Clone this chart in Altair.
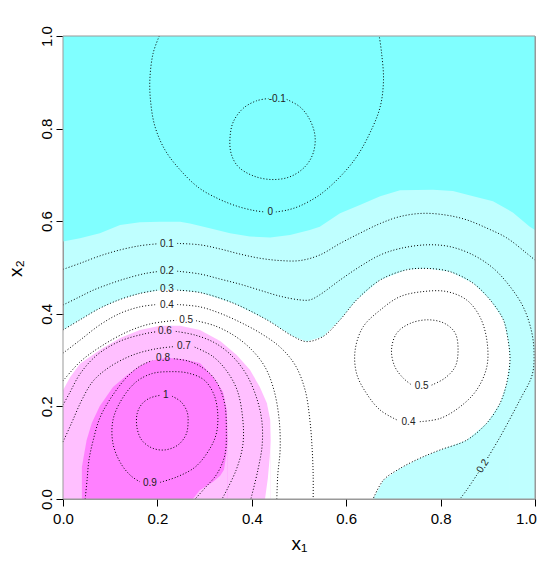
import altair as alt
import pandas as pd

# ---------------- colour-class boundaries (x1, x2) ----------------
DARK_CYAN_EDGE = [(0.0, 0.556), (0.036, 0.563), (0.078, 0.574), (0.121, 0.592), (0.163, 0.598),
                  (0.206, 0.599), (0.248, 0.599), (0.269, 0.595), (0.311, 0.585), (0.354, 0.574),
                  (0.396, 0.567), (0.439, 0.565), (0.481, 0.570), (0.523, 0.581), (0.544, 0.588),
                  (0.587, 0.617), (0.629, 0.635), (0.672, 0.654), (0.714, 0.667), (0.784, 0.668),
                  (0.826, 0.665), (0.869, 0.654), (0.911, 0.643), (0.953, 0.619), (0.989, 0.588),
                  (1.0, 0.581)]
WHITE_TOP = [(0.0, 0.365), (0.036, 0.387), (0.078, 0.412), (0.121, 0.431), (0.163, 0.444),
             (0.220, 0.453), (0.290, 0.446), (0.361, 0.423), (0.432, 0.387), (0.488, 0.351),
             (0.516, 0.340), (0.551, 0.351), (0.587, 0.387), (0.622, 0.430), (0.672, 0.473),
             (0.728, 0.495), (0.771, 0.498), (0.820, 0.491), (0.869, 0.466), (0.905, 0.430),
             (0.933, 0.387), (0.943, 0.343), (0.947, 0.300)]
CYAN_FOOT = [(0.657, 0.0), (0.679, 0.041), (0.714, 0.066), (0.756, 0.088), (0.799, 0.106),
             (0.855, 0.127), (0.898, 0.164), (0.926, 0.207), (0.940, 0.250), (0.947, 0.300)]
PINK_TOP = [(0.0, 0.235), (0.015, 0.263), (0.036, 0.292), (0.078, 0.322), (0.121, 0.348),
            (0.163, 0.365), (0.206, 0.374), (0.248, 0.374), (0.290, 0.365), (0.333, 0.341),
            (0.368, 0.311), (0.396, 0.279), (0.417, 0.242), (0.432, 0.207), (0.439, 0.171),
            (0.440, 0.127)]
WHITE_NOTCH = [(0.428, 0.0), (0.434, 0.045), (0.438, 0.091), (0.440, 0.127)]
MAGENTA_TOP = [(0.040, 0.069), (0.050, 0.127), (0.061, 0.164), (0.078, 0.201), (0.106, 0.242),
               (0.136, 0.268), (0.163, 0.287), (0.184, 0.298), (0.220, 0.305), (0.254, 0.302),
               (0.290, 0.294), (0.318, 0.264), (0.339, 0.231), (0.347, 0.192), (0.349, 0.127)]
PINK_NOTCH = [(0.275, 0.0), (0.290, 0.019), (0.318, 0.037), (0.333, 0.050), (0.341, 0.063),
              (0.346, 0.095), (0.349, 0.127)]

# ---------------- contour line pieces (gaps left where labels sit) ----------------
C_M01 = [(0.474, 0.863), (0.502, 0.847), (0.523, 0.819), (0.534, 0.783), (0.530, 0.747),
         (0.513, 0.718), (0.481, 0.696), (0.442, 0.690), (0.403, 0.698), (0.371, 0.718),
         (0.356, 0.747), (0.354, 0.783), (0.361, 0.815), (0.382, 0.844), (0.410, 0.860),
         (0.435, 0.865)]
C_0A = [(0.204, 1.0), (0.191, 0.963), (0.184, 0.905), (0.186, 0.855), (0.195, 0.804),
        (0.216, 0.754), (0.248, 0.711), (0.288, 0.672), (0.330, 0.648), (0.370, 0.632),
        (0.405, 0.623), (0.427, 0.620)]
C_0B = [(0.451, 0.620), (0.475, 0.624), (0.502, 0.633), (0.544, 0.657), (0.587, 0.696),
        (0.622, 0.739), (0.650, 0.790), (0.672, 0.847), (0.679, 0.905), (0.675, 0.963),
        (0.670, 1.0)]
C_01A = [(0.0, 0.496), (0.036, 0.509), (0.078, 0.525), (0.121, 0.538), (0.163, 0.547),
         (0.198, 0.551)]
C_01B = [(0.242, 0.552), (0.290, 0.549), (0.333, 0.540), (0.375, 0.529), (0.417, 0.520),
         (0.460, 0.515), (0.502, 0.515), (0.544, 0.527), (0.587, 0.552), (0.629, 0.574),
         (0.672, 0.595), (0.714, 0.610), (0.763, 0.617), (0.813, 0.613), (0.855, 0.603),
         (0.898, 0.585), (0.940, 0.564), (0.982, 0.531), (1.0, 0.516)]
C_02A = [(0.0, 0.419), (0.032, 0.435), (0.064, 0.451), (0.100, 0.465), (0.136, 0.477),
         (0.174, 0.487), (0.199, 0.491)]
C_02B = [(0.242, 0.492), (0.290, 0.486), (0.333, 0.475), (0.375, 0.464), (0.417, 0.451),
         (0.460, 0.438), (0.502, 0.430), (0.523, 0.430), (0.544, 0.441), (0.587, 0.473),
         (0.629, 0.502), (0.672, 0.527), (0.714, 0.541), (0.771, 0.549), (0.820, 0.545),
         (0.869, 0.527), (0.912, 0.498), (0.947, 0.459), (0.975, 0.415), (0.992, 0.365),
         (0.998, 0.317), (0.994, 0.268), (0.968, 0.214), (0.926, 0.134), (0.898, 0.086)]
C_02C = [(0.880, 0.057), (0.855, 0.019), (0.841, 0.0)]
C_03A = [(0.0, 0.365), (0.036, 0.387), (0.078, 0.412), (0.121, 0.431), (0.163, 0.444),
         (0.199, 0.451)]
C_03B = [(0.242, 0.451), (0.290, 0.446), (0.361, 0.423), (0.432, 0.387), (0.488, 0.351),
         (0.516, 0.340), (0.551, 0.351), (0.587, 0.387), (0.622, 0.430), (0.672, 0.473),
         (0.728, 0.495), (0.771, 0.498), (0.820, 0.491), (0.869, 0.466), (0.905, 0.430),
         (0.933, 0.387), (0.943, 0.343), (0.947, 0.300), (0.940, 0.250), (0.926, 0.207),
         (0.898, 0.164), (0.855, 0.127), (0.799, 0.106), (0.756, 0.088), (0.714, 0.066),
         (0.679, 0.041), (0.657, 0.0)]
C_04A = [(0.0, 0.315), (0.036, 0.343), (0.078, 0.376), (0.121, 0.401), (0.163, 0.415),
         (0.199, 0.420)]
C_04B = [(0.242, 0.420), (0.290, 0.415), (0.333, 0.401), (0.375, 0.382), (0.417, 0.359),
         (0.460, 0.328), (0.492, 0.289), (0.513, 0.235), (0.523, 0.171), (0.528, 0.106),
         (0.530, 0.052), (0.530, 0.0)]
C_05A = [(0.0, 0.255), (0.036, 0.296), (0.078, 0.328), (0.136, 0.361), (0.184, 0.378),
         (0.240, 0.386)]
C_05B = [(0.282, 0.385), (0.322, 0.374), (0.364, 0.352), (0.400, 0.322), (0.428, 0.285),
         (0.447, 0.235), (0.458, 0.171), (0.460, 0.106), (0.455, 0.052), (0.453, 0.0)]
C_06A = [(0.0, 0.203), (0.015, 0.231), (0.036, 0.270), (0.072, 0.311), (0.121, 0.341),
         (0.174, 0.357), (0.196, 0.361)]
C_06B = [(0.239, 0.362), (0.280, 0.354), (0.322, 0.337), (0.358, 0.309), (0.388, 0.270),
         (0.409, 0.222), (0.421, 0.171), (0.422, 0.117), (0.413, 0.063), (0.398, 0.0)]
C_07A = [(0.0, 0.123), (0.019, 0.166), (0.040, 0.214), (0.064, 0.255), (0.100, 0.286),
         (0.148, 0.311), (0.195, 0.324), (0.234, 0.329)]
C_07B = [(0.279, 0.328), (0.316, 0.309), (0.345, 0.279), (0.369, 0.235), (0.381, 0.171),
         (0.381, 0.117), (0.367, 0.063), (0.337, 0.0)]
C_08A = [(0.047, 0.0), (0.051, 0.041), (0.055, 0.084), (0.064, 0.127), (0.078, 0.175),
         (0.100, 0.216), (0.135, 0.263), (0.163, 0.287), (0.189, 0.299)]
C_08B = [(0.235, 0.303), (0.265, 0.298), (0.290, 0.287), (0.314, 0.268), (0.331, 0.242),
         (0.343, 0.203), (0.346, 0.149), (0.343, 0.095), (0.326, 0.054), (0.301, 0.024),
         (0.280, 0.0)]
C_09 = [(0.206, 0.036), (0.242, 0.048), (0.280, 0.069), (0.307, 0.102), (0.324, 0.138),
        (0.328, 0.181), (0.320, 0.225), (0.299, 0.257), (0.265, 0.272), (0.227, 0.275),
        (0.189, 0.271), (0.155, 0.253), (0.125, 0.216), (0.106, 0.171), (0.106, 0.119),
        (0.123, 0.076), (0.144, 0.050), (0.163, 0.037)]
C_1 = [(0.231, 0.222), (0.250, 0.210), (0.263, 0.188), (0.265, 0.166), (0.261, 0.140),
       (0.244, 0.117), (0.216, 0.106), (0.189, 0.110), (0.167, 0.127), (0.157, 0.153),
       (0.157, 0.184), (0.167, 0.205), (0.184, 0.218), (0.206, 0.224)]
C_04R = [(0.756, 0.167), (0.799, 0.174), (0.841, 0.199), (0.876, 0.235), (0.898, 0.286),
         (0.898, 0.343), (0.883, 0.394), (0.855, 0.430), (0.813, 0.448), (0.763, 0.448),
         (0.714, 0.437), (0.672, 0.408), (0.636, 0.372), (0.619, 0.322), (0.622, 0.271),
         (0.643, 0.228), (0.672, 0.192), (0.707, 0.171)]
C_05R = [(0.781, 0.246), (0.809, 0.261), (0.831, 0.286), (0.837, 0.322), (0.831, 0.358),
         (0.809, 0.379), (0.774, 0.387), (0.735, 0.379), (0.707, 0.358), (0.696, 0.322),
         (0.703, 0.286), (0.721, 0.261), (0.739, 0.246)]

PIECES = [C_M01, C_0A, C_0B, C_01A, C_01B, C_02A, C_02B, C_02C, C_03A, C_03B, C_04A, C_04B,
          C_05A, C_05B, C_06A, C_06B, C_07A, C_07B, C_08A, C_08B, C_09, C_1, C_04R, C_05R]

# ---------------- contour labels ----------------
LABEL_TEXT = ["-0.1", "0", "0.1", "0.2", "0.2", "0.3", "0.4", "0.5", "0.6", "0.7", "0.8",
              "1", "0.9", "0.5", "0.4"]
LABEL_X = [0.454, 0.439, 0.220, 0.220, 0.889, 0.220, 0.220, 0.261, 0.216, 0.256, 0.212,
           0.218, 0.184, 0.760, 0.732]
LABEL_Y = [0.863, 0.619, 0.551, 0.492, 0.071, 0.453, 0.420, 0.387, 0.363, 0.330, 0.305,
           0.224, 0.035, 0.244, 0.167]
LABEL_ANGLE = [0, 0, 0, 0, 302, 0, 0, 0, 0, 0, 0, 0, 0, 0, 0]

X_TICKS = [0.0, 0.2, 0.4, 0.6, 0.8, 1.0]
Y_TICKS = [0.0, 0.2, 0.4, 0.6, 0.8, 1.0]

# colours (cm.colors(5))
COL_DARK_CYAN = "#80FFFF"
COL_LIGHT_CYAN = "#BFFFFF"
COL_WHITE = "#FFFFFF"
COL_LIGHT_PINK = "#FFBFFF"
COL_MAGENTA = "#FF80FF"

FONT = "Liberation Sans"
W, H = 472, 463

xs = alt.Scale(domain=[0, 1], nice=False, zero=False)
ys = alt.Scale(domain=[0, 1], nice=False, zero=False)

x_axis = alt.Axis(values=X_TICKS, format=".1f", grid=False, domain=False, tickSize=7,
                  tickColor="black", tickWidth=1, labelFont=FONT, labelFontSize=15,
                  labelColor="black", labelPadding=5, labelFlush=False, labelOverlap=False,
                  labelOffset={"condition": {"test": "datum.value >= 1", "value": -9},
                               "value": 0},
                  title="x₁", titleFont=FONT, titleFontSize=19, titleFontWeight="normal",
                  titleColor="black", titleBaseline="alphabetic", titleY=50)
y_axis = alt.Axis(values=Y_TICKS, format=".1f", grid=False, domain=False, tickSize=7,
                  tickColor="black", tickWidth=1, labelFont=FONT, labelFontSize=15,
                  labelColor="black", labelPadding=5, labelFlush=False, labelOverlap=False,
                  labelAngle=270, labelAlign="center", labelBaseline="alphabetic",
                  title="x₂", titleFont=FONT, titleFontSize=19, titleFontWeight="normal",
                  titleColor="black", titleAngle=270, titleAlign="center",
                  titleBaseline="alphabetic", titleX=-42, titleY=232)


def X(field):
    return alt.X(field, type="quantitative", scale=xs, axis=x_axis)


def Y(field):
    return alt.Y(field, type="quantitative", scale=ys, axis=y_axis)


def band(pts, color, below=None, above=None):
    xsv = [p[0] for p in pts]
    yv = [p[1] for p in pts]
    if above is not None:   # fill from curve up to `above`
        df = pd.DataFrame({"x": xsv, "lo": yv, "hi": [above] * len(pts)})
    else:                   # fill from `below` up to curve
        df = pd.DataFrame({"x": xsv, "lo": [below] * len(pts), "hi": yv})
    return alt.Chart(df).mark_area(color=color, opacity=1, interpolate="linear").encode(
        x=X("x"), y=Y("lo"), y2="hi")


layers = [
    band(DARK_CYAN_EDGE, COL_DARK_CYAN, above=1.0),
    band(WHITE_TOP, COL_WHITE, below=0.0),
    band(CYAN_FOOT, COL_LIGHT_CYAN, below=0.0),
    band(PINK_TOP, COL_LIGHT_PINK, below=0.0),
    band(WHITE_NOTCH, COL_WHITE, below=0.0),
    band(MAGENTA_TOP, COL_MAGENTA, below=0.0),
    band(PINK_NOTCH, COL_LIGHT_PINK, below=0.0),
]

rows = []
for pid, piece in enumerate(PIECES):
    for i, (px, py) in enumerate(piece):
        rows.append({"piece": pid, "i": i, "x": px, "y": py})
lines_df = pd.DataFrame(rows)
lines = alt.Chart(lines_df).mark_line(color="black", strokeWidth=1, strokeDash=[1, 2],
                                      interpolate="catmull-rom").encode(
    x=X("x"), y=Y("y"), detail="piece:N", order="i:Q")
layers.append(lines)

labels_df = pd.DataFrame({"t": LABEL_TEXT, "x": LABEL_X, "y": LABEL_Y, "a": LABEL_ANGLE})
labels = alt.Chart(labels_df).mark_text(font=FONT, fontSize=10, color="#222222",
                                        align="center", baseline="middle").encode(
    x=X("x"), y=Y("y"), text="t:N", angle=alt.Angle("a:Q", scale=None))
layers.append(labels)

frame_df = pd.DataFrame({"a": [0.0], "b": [1.0]})
frame = alt.Chart(frame_df).mark_rect(fillOpacity=0, stroke="#999999", strokeWidth=1).encode(
    x=X("a"), x2="b", y=Y("a"), y2="b")
layers.append(frame)

chart = alt.layer(*layers).properties(
    width=W, height=H,
    autosize=alt.AutoSizeParams(type="none"),
    padding={"left": 55, "top": 28, "right": 2, "bottom": 56},
).configure_view(fill=COL_LIGHT_CYAN, stroke="#999999")

chart.save("out.html", embed_options={"renderer": "svg", "actions": False})
